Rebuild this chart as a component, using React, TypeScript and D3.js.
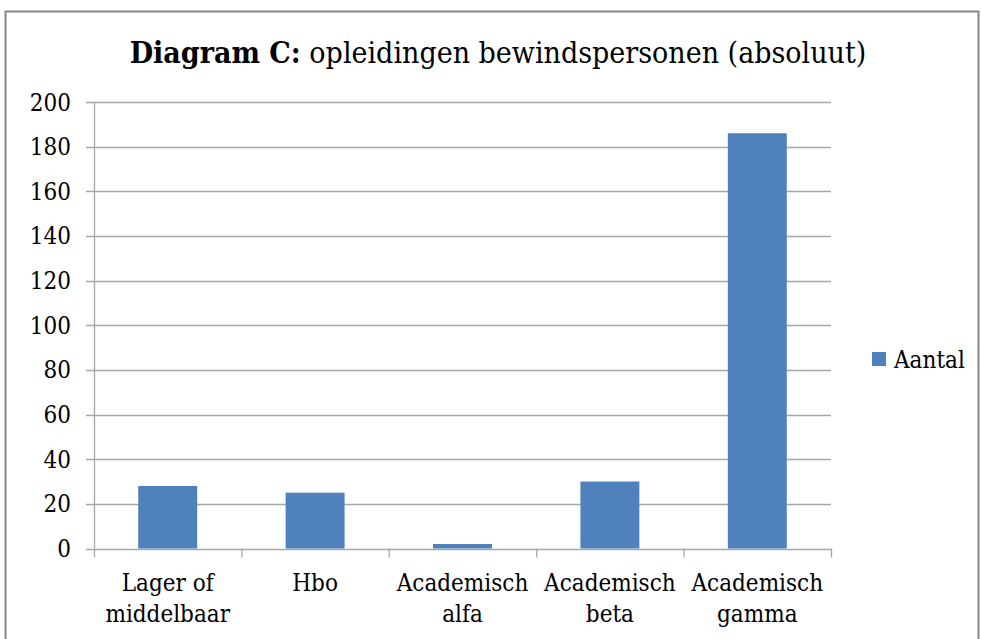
import React from "react";
import * as d3 from "d3";

const categories: string[][] = [
  ["Lager of", "middelbaar"],
  ["Hbo"],
  ["Academisch", "alfa"],
  ["Academisch", "beta"],
  ["Academisch", "gamma"],
];
const values: number[] = [28, 25, 2, 30, 186];
const yTicks: number[] = [0, 20, 40, 60, 80, 100, 120, 140, 160, 180, 200];
const seriesName = "Aantal";

const W = 981;
const H = 639;
const FONT = "'DejaVu Serif Condensed', 'DejaVu Serif', serif";
const BLUE = "#4f81bd";

export default function App() {
  const left = 94, right = 831, top = 102, bottom = 548.5;
  const x = d3.scaleBand<number>().domain(d3.range(values.length)).range([left, right]).paddingInner(0).paddingOuter(0);
  const y = d3.scaleLinear().domain([0, 200]).range([bottom, top]);
  const bw = x.bandwidth() * 0.4;

  return (
    <svg width={W} height={H} style={{ position: "absolute", left: 0, top: 0, background: "#fff" }}>
      <rect x={0} y={0} width={W} height={H} fill="#fff" />
      {/* border */}
      <path d={`M5.5,${H} V11.5 H978.5 V${H}`} fill="none" stroke="#858585" strokeWidth={2} />
      {/* title */}
      <text x={498} y={63} textAnchor="middle" fontFamily={FONT} fontSize={30} fill="#000">
        <tspan fontWeight="bold">Diagram C:</tspan>
        <tspan> opleidingen bewindspersonen (absoluut)</tspan>
      </text>
      {/* gridlines and y ticks */}
      {yTicks.map((t) => (
        <g key={t}>
          <line x1={left - 8} x2={right} y1={Math.round(y(t)) + 0.5} y2={Math.round(y(t)) + 0.5} stroke="#a6a6a6" strokeWidth={1.3} />
          <text x={71} y={y(t) + 8.5} textAnchor="end" fontFamily={FONT} fontSize={24} fill="#000">
            {t}
          </text>
        </g>
      ))}
      {/* y axis */}
      <line x1={left + 0.5} x2={left + 0.5} y1={top} y2={bottom} stroke="#a6a6a6" strokeWidth={1.3} />
      {/* category ticks */}
      {d3.range(values.length + 1).map((i) => {
        const xx = i < values.length ? x(i)! : right;
        return <line key={i} x1={xx + 0.5} x2={xx + 0.5} y1={bottom} y2={bottom + 9} stroke="#a6a6a6" strokeWidth={1.3} />;
      })}
      {/* bars */}
      {values.map((v, i) => (
        <rect
          key={i}
          x={x(i)! + (x.bandwidth() - bw) / 2}
          y={y(v)}
          width={bw}
          height={bottom - y(v)}
          fill={BLUE}
        />
      ))}
      {/* category labels */}
      {categories.map((lines, i) => (
        <text key={i} textAnchor="middle" fontFamily={FONT} fontSize={24} fill="#000">
          {lines.map((l, j) => (
            <tspan key={j} x={x(i)! + x.bandwidth() / 2} y={591 + j * 31}>
              {l}
            </tspan>
          ))}
        </text>
      ))}
      {/* legend */}
      <rect x={872} y={352} width={14} height={14} fill={BLUE} />
      <text x={894} y={368} fontFamily={FONT} fontSize={24} fill="#000">
        {seriesName}
      </text>
    </svg>
  );
}
